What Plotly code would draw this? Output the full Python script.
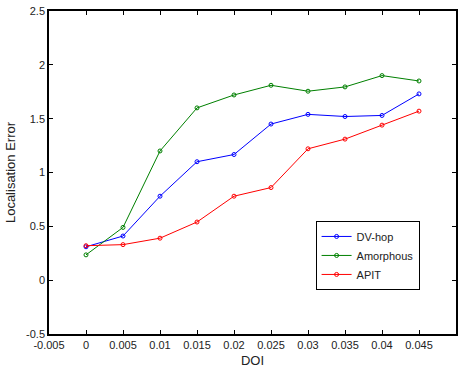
import plotly.graph_objects as go

doi = [0, 0.005, 0.01, 0.015, 0.02, 0.025, 0.03, 0.035, 0.04, 0.045]
dv_hop = [0.31, 0.41, 0.78, 1.10, 1.167, 1.45, 1.54, 1.52, 1.53, 1.73]
amorphous = [0.235, 0.49, 1.20, 1.60, 1.72, 1.81, 1.755, 1.795, 1.90, 1.85]
apit = [0.32, 0.33, 0.39, 0.54, 0.78, 0.86, 1.22, 1.31, 1.44, 1.57]

x_ticks = [-0.005, 0, 0.005, 0.01, 0.015, 0.02, 0.025, 0.03, 0.035, 0.04, 0.045]
x_tick_text = ["-0.005", "0", "0.005", "0.01", "0.015", "0.02", "0.025", "0.03", "0.035", "0.04", "0.045"]
y_ticks = [-0.5, 0, 0.5, 1, 1.5, 2, 2.5]
y_tick_text = ["-0.5", "0", "0.5", "1", "1.5", "2", "2.5"]

series = [("DV-hop", dv_hop, "#0000ff"), ("Amorphous", amorphous, "#008000"), ("APIT", apit, "#ff0000")]

fig = go.Figure()
for name, vals, col in series:
    fig.add_trace(go.Scatter(x=doi, y=vals, name=name, mode="lines+markers",
                             line=dict(color=col, width=1),
                             marker=dict(symbol="circle-open", size=4, color=col, line=dict(width=1, color=col))))

font = dict(family="Liberation Sans, Arial, sans-serif", size=11, color="#222222")
fig.update_layout(
    width=459, height=370,
    margin=dict(l=49, r=1, t=11, b=36),
    paper_bgcolor="white", plot_bgcolor="white",
    font=font,
    showlegend=True,
    legend=dict(x=0.655, y=0.35, xanchor="left", yanchor="top",
                bgcolor="white", bordercolor="black", borderwidth=1,
                font=dict(family="Liberation Sans, Arial, sans-serif", size=11, color="#222222"),
                tracegroupgap=0, itemwidth=30),
    xaxis=dict(range=[-0.005, 0.05], tickvals=x_ticks, ticktext=x_tick_text,
               showgrid=False, zeroline=False, showline=True, linecolor="black", linewidth=1.5,
               mirror="ticks", ticks="inside", ticklen=4, tickcolor="black",
               title=dict(text="DOI", standoff=6)),
    yaxis=dict(range=[-0.5, 2.5], tickvals=y_ticks, ticktext=y_tick_text,
               showgrid=False, zeroline=False, showline=True, linecolor="black", linewidth=1.5,
               mirror="ticks", ticks="inside", ticklen=4, tickcolor="black",
               title=dict(text="Localisation Error", standoff=8)),
)
fig.write_html("out.html")
